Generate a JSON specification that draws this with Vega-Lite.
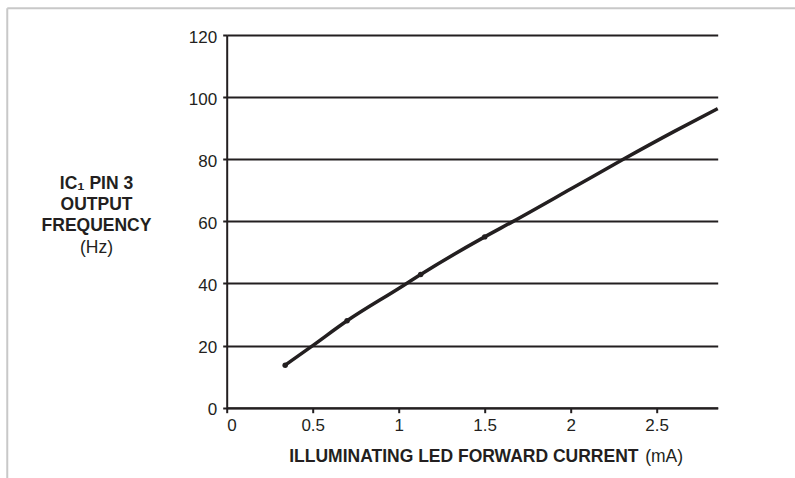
{
  "$schema": "https://vega.github.io/schema/vega-lite/v6.json",
  "width": 491,
  "height": 372.7,
  "autosize": {"type": "none"},
  "padding": {"left": 226.7, "top": 35, "right": 77.3, "bottom": 70.3},
  "background": "white",
  "config": {"view": {"stroke": null}, "font": "Liberation Sans"},
  "datasets": {
    "curve": [
      {"current": 0.34, "freq": 13.7},
      {"current": 0.5, "freq": 20.0},
      {"current": 0.7, "freq": 28.0},
      {"current": 1.0, "freq": 38.4},
      {"current": 1.128, "freq": 42.9},
      {"current": 1.5, "freq": 55.0},
      {"current": 1.666, "freq": 60.0},
      {"current": 2.0, "freq": 70.4},
      {"current": 2.306, "freq": 80.0},
      {"current": 2.6, "freq": 88.9},
      {"current": 2.855, "freq": 96.3}
    ],
    "measured": [
      {"current": 0.34, "freq": 13.7},
      {"current": 0.7, "freq": 28.0},
      {"current": 1.128, "freq": 42.9},
      {"current": 1.5, "freq": 55.0}
    ]
  },
  "layer": [
    {
      "data": {"values": [{}]},
      "mark": {"type": "rule", "clip": false, "color": "#c8c8c8", "strokeWidth": 2},
      "encoding": {
        "y": {"datum": 128.6, "type": "quantitative", "axis": null, "scale": {"domain": [0, 120], "nice": false, "zero": false}},
        "x": {"datum": -1.276, "type": "quantitative", "axis": null, "scale": {"domain": [0, 2.855], "nice": false, "zero": false}},
        "x2": {"datum": 3.31}
      }
    },
    {
      "data": {"values": [{}]},
      "mark": {"type": "rule", "clip": false, "color": "#c8c8c8", "strokeWidth": 2},
      "encoding": {
        "x": {"datum": -1.276, "type": "quantitative", "axis": null, "scale": {"domain": [0, 2.855], "nice": false, "zero": false}},
        "y": {"datum": 128.6, "type": "quantitative", "axis": null, "scale": {"domain": [0, 120], "nice": false, "zero": false}},
        "y2": {"datum": -23}
      }
    },
    {
      "data": {"name": "curve"},
      "mark": {"type": "line", "color": "#231f20", "strokeWidth": 3.5, "interpolate": "monotone"},
      "encoding": {
        "x": {
          "field": "current", "type": "quantitative",
          "scale": {"domain": [0, 2.855], "nice": false, "zero": false},
          "axis": {
            "orient": "bottom",
            "title": "ILLUMINATING LED FORWARD CURRENT",
            "values": [0, 0.5, 1, 1.5, 2, 2.5],
            "format": "~g",
            "grid": false,
            "domainColor": "#231f20", "domainWidth": 2,
            "tickColor": "#231f20", "tickWidth": 2, "tickSize": 5,
            "labelFontSize": 17, "labelColor": "#231f20", "labelPadding": 5,
            "titleFontSize": 17.5, "titleFontWeight": "bold", "titleColor": "#231f20",
            "titleAlign": "right", "titleX": 411.3, "titleY": 53.8, "titleBaseline": "alphabetic"
          }
        },
        "y": {
          "field": "freq", "type": "quantitative",
          "scale": {"domain": [0, 120], "nice": false, "zero": false},
          "axis": {
            "orient": "left",
            "title": ["IC₁ PIN 3", "OUTPUT", "FREQUENCY"],
            "values": [0, 20, 40, 60, 80, 100, 120],
            "grid": true, "gridColor": "#231f20", "gridWidth": 2, "gridOpacity": 1,
            "domainColor": "#231f20", "domainWidth": 2,
            "tickColor": "#231f20", "tickWidth": 2, "tickSize": 4,
            "labelFontSize": 17, "labelColor": "#231f20", "labelPadding": 6, "labelOffset": 2,
            "titleFontSize": 17.5, "titleFontWeight": "bold", "titleColor": "#231f20",
            "titleAngle": 0, "titleAlign": "center", "titleBaseline": "alphabetic",
            "titleX": -130.7, "titleY": 153.5, "titleLineHeight": 21
          }
        }
      }
    },
    {
      "data": {"name": "measured"},
      "mark": {"type": "circle", "color": "#231f20", "opacity": 1, "size": 30},
      "encoding": {
        "x": {
          "field": "current", "type": "quantitative",
          "scale": {"domain": [0, 2.855], "nice": false, "zero": false},
          "axis": {
            "orient": "bottom", "title": "(mA)", "labels": false, "ticks": false, "domain": false, "grid": false,
            "titleFontSize": 17.5, "titleFontWeight": "normal", "titleColor": "#231f20",
            "titleAlign": "left", "titleX": 418, "titleY": 53.8, "titleBaseline": "alphabetic"
          }
        },
        "y": {
          "field": "freq", "type": "quantitative",
          "scale": {"domain": [0, 120], "nice": false, "zero": false},
          "axis": {
            "orient": "left", "title": "(Hz)", "labels": false, "ticks": false, "domain": false, "grid": false,
            "titleFontSize": 17.5, "titleFontWeight": "normal", "titleColor": "#231f20",
            "titleAngle": 0, "titleAlign": "center", "titleBaseline": "alphabetic",
            "titleX": -130.7, "titleY": 217.3
          }
        }
      }
    }
  ],
  "resolve": {"axis": {"x": "independent", "y": "independent"}}
}
